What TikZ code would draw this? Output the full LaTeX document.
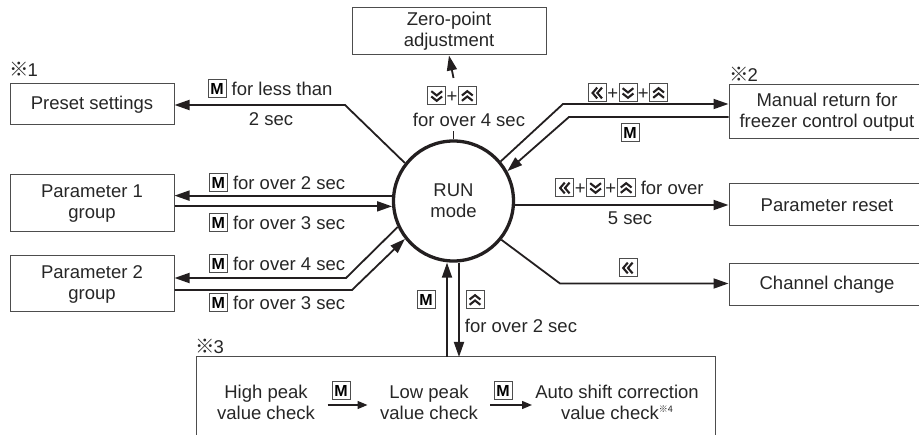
\documentclass[tikz,border=0pt]{standalone}
\usepackage{fontspec}
\setmainfont{Liberation Sans}
\newfontfamily\cjk{Noto Sans CJK JP}
\usetikzlibrary{arrows.meta}
\definecolor{lnc}{HTML}{231F20}
\definecolor{txc}{HTML}{262626}
\definecolor{bxc}{HTML}{4D4D4D}
\newcommand{\keyframe}{\draw[line width=1pt,draw=bxc,fill=none] (0,0) rectangle (18,18);}
\newcommand{\keyM}{\tikz[x=1pt,y=1pt,baseline=2.4pt]{\keyframe\pgftext[at={\pgfpoint{9pt}{9pt}}]{\fontsize{16}{16}\selectfont\bfseries M}}}
\newcommand{\keyD}{\tikz[x=1pt,y=1pt,baseline=2.4pt]{\keyframe\draw[line width=2.1pt,draw=lnc,fill=none] (3.6,13.8)--(9,9.5)--(14.4,13.8) (3.6,8.5)--(9,4.2)--(14.4,8.5);}}
\newcommand{\keyU}{\tikz[x=1pt,y=1pt,baseline=2.4pt]{\keyframe\draw[line width=2.1pt,draw=lnc,fill=none] (3.6,4.2)--(9,8.5)--(14.4,4.2) (3.6,9.5)--(9,13.8)--(14.4,9.5);}}
\newcommand{\keyL}{\tikz[x=1pt,y=1pt,baseline=2.4pt]{\keyframe\draw[line width=2.1pt,draw=lnc,fill=none] (8.8,3.6)--(4.2,9)--(8.8,14.4) (13.6,3.6)--(9,9)--(13.6,14.4);}}
\newcommand{\plusk}{\kern0.4pt+\kern0.4pt}
\newcommand{\refmark}[1]{{\cjk\fontsize{19.5}{19.5}\selectfont ※}\kern-1pt#1}
\begin{document}
\begin{tikzpicture}[x=1pt,y=-1pt,
  box/.style={draw=bxc,line width=1pt,align=center,text=txc,font=\fontsize{18.5}{21}\selectfont,inner sep=0pt},
  lab/.style={text=txc,font=\fontsize{18.5}{21}\selectfont,inner sep=0pt,align=center},
  arr/.style={draw=lnc,line width=1.8pt,-{Triangle[length=15pt,width=10pt]}},
  plain/.style={draw=lnc,line width=1.8pt},
  sarr/.style={draw=lnc,line width=1.4pt,-{Triangle[length=10pt,width=8pt]}}]
\useasboundingbox (0,0) rectangle (919,435);
% boxes
\node[box,minimum width=194pt,minimum height=47pt] (zero) at (449,31.5) {Zero-point\\adjustment};
\node[box,minimum width=164pt,minimum height=41pt] (preset) at (92,104.5) {Preset settings};
\node[box,minimum width=164pt,minimum height=57pt] (p1) at (92,203.5) {Parameter 1\\group};
\node[box,minimum width=164pt,minimum height=56pt] (p2) at (92,284) {Parameter 2\\group};
\node[box,minimum width=196pt,minimum height=54pt] (manual) at (827,112) {Manual return for\\freezer control output};
\node[box,minimum width=196pt,minimum height=42pt] (reset) at (827,205) {Parameter reset};
\node[box,minimum width=196pt,minimum height=42pt] (chan) at (827,285) {Channel change};
\node[draw=bxc,line width=1pt,minimum width=519pt,minimum height=88pt,inner sep=0pt] (bot) at (455.5,401) {};
\node[circle,draw=lnc,line width=3.3pt,minimum size=120pt,inner sep=0pt,align=center,text=txc,font=\fontsize{18.5}{21}\selectfont] (run) at (453.5,201) {RUN\\mode};
% reference marks
\node[lab,anchor=west] (n1) at (9,69) {\refmark{1}};
\node[lab,anchor=west] (n2) at (729,74) {\refmark{2}};
\node[lab,anchor=west] (n3) at (195,346) {\refmark{3}};
% connectors
\coordinate (preb) at (345,105);
\draw[arr] (run.142) -- (preb) -- (preset.east |- preb);
\draw[arr] (run.175) -- (p1.east |- run.175);
\draw[arr] (p1.east |- run.185) -- (run.185);
\coordinate (p2a) at (346,278);
\coordinate (p2b) at (352,290);
\draw[arr] (run.205) -- (p2a) -- (p2.east |- p2a);
\draw[arr] (p2.east |- p2b) -- (p2b) -- (run.218);
\coordinate (zb) at (453.5,131);
\coordinate (zt) at (453.5,78);
\draw[plain] (run.north) -- (zb);
\draw[arr] (zt) -- (zero.south);
\coordinate (ma) at (563,104);
\coordinate (mb) at (569,117);
\draw[arr] (run.40) -- (ma) -- (manual.west |- ma);
\draw[arr] (manual.west |- mb) -- (mb) -- (run.29);
\draw[arr] (run.east |- reset.west) -- (reset.west);
\coordinate (cb) at (560,283.5);
\draw[arr] (run.321) -- (cb) -- (chan.west |- cb);
\coordinate (bl) at (447,357);
\coordinate (br) at (459,357);
\draw[arr] (bl) -- (bl |- run.south);
\draw[arr] (br |- run.south) -- (br);
% labels
\node[lab] (l1) at (270,89) {\keyM\ for less than};
\node[lab] (l2) at (271,119) {2 sec};
\node[lab] (l3) at (277,183) {\keyM\ for over 2 sec};
\node[lab] (l4) at (277,223) {\keyM\ for over 3 sec};
\node[lab] (l5) at (277,264) {\keyM\ for over 4 sec};
\node[lab] (l6) at (277,303) {\keyM\ for over 3 sec};
\node[lab] (l7) at (452,96) {\keyD\plusk\keyU};
\node[lab] (l8) at (469,120) {for over 4 sec};
\node[lab] (l9) at (628,93) {\keyL\plusk\keyD\plusk\keyU};
\node[lab] (l10) at (630,133) {\keyM};
\node[lab] (l11) at (629.5,188) {\keyL\plusk\keyD\plusk\keyU\ for over};
\node[lab] (l12) at (630,218) {5 sec};
\node[lab] (l13) at (628,268) {\keyL};
\node[lab] (l14) at (426,300) {\keyM};
\node[lab] (l15) at (475,300) {\keyU};
\node[lab] (l16) at (521,326) {for over 2 sec};
% bottom box contents
\node[lab] (hp) at (266,402.5) {High peak\\value check};
\node[lab] (lp) at (429,402.5) {Low peak\\value check};
\node[lab] (as) at (617,402.5) {Auto shift correction\\value check\raisebox{7pt}{\cjk\fontsize{9}{9}\selectfont ※4}};
\node[lab] (m1) at (341,391) {\keyM};
\node[lab] (m2) at (503,391) {\keyM};
\draw[sarr] ([shift={(-13.5,14)}]m1.center) -- ([shift={(26.5,14)}]m1.center);
\draw[sarr] ([shift={(-13,14)}]m2.center) -- ([shift={(29,14)}]m2.center);
\end{tikzpicture}
\end{document}
